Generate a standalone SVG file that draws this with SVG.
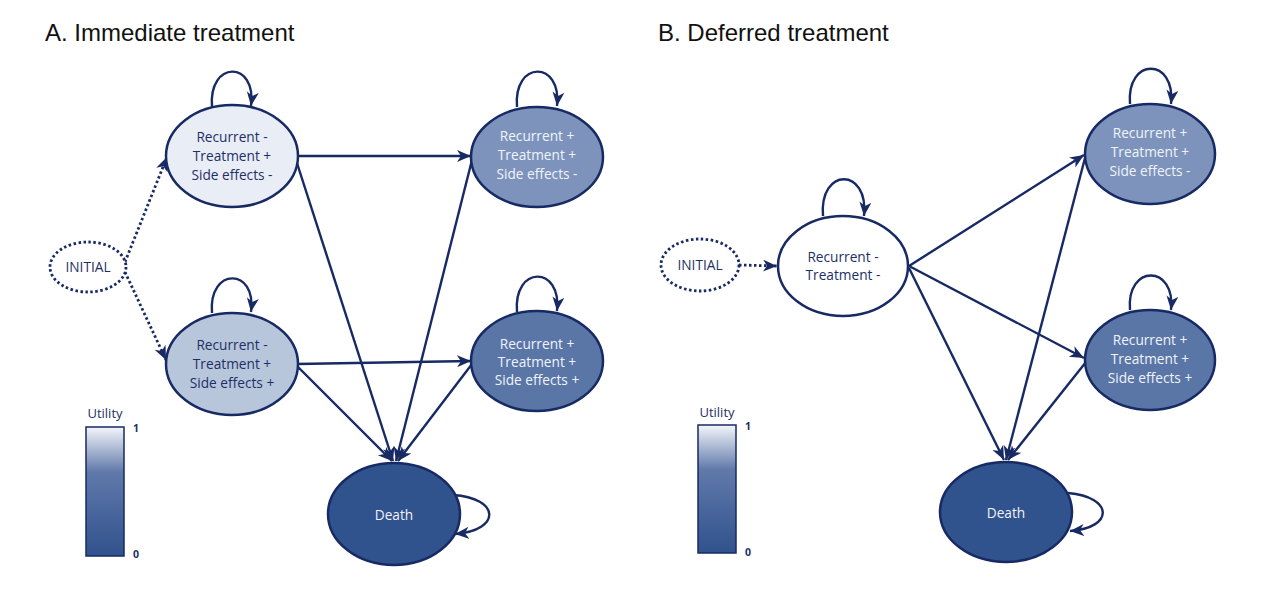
<svg xmlns="http://www.w3.org/2000/svg" width="1271" height="600" viewBox="0 0 1271 600">
<defs>
<marker id="arr" markerUnits="userSpaceOnUse" markerWidth="16" markerHeight="14" refX="14" refY="6" orient="auto">
<path d="M0,0 L14,6 L0,12 L4,6 z" fill="#172a63"/>
</marker>
<linearGradient id="util" x1="0" y1="0" x2="0" y2="1">
<stop offset="0" stop-color="#f3f5fa"/>
<stop offset="0.35" stop-color="#6079aa"/>
<stop offset="1" stop-color="#30528d"/>
</linearGradient>
<style>
.title{font-family:"Liberation Sans",Arial,sans-serif;font-size:24px;fill:#111}
.node{stroke:#172a63;stroke-width:2.5}
.lbl{font-family:"Open Sans","Liberation Sans",sans-serif;font-size:13.7px;text-anchor:middle}
.dk{fill:#1e2f66}
.lt{fill:#f0f3fa}
.edge{fill:none;stroke:#172a63;stroke-width:2.4;marker-end:url(#arr)}
.dot{fill:none;stroke:#172a63;stroke-width:2.8;stroke-dasharray:2.5 2.5;marker-end:url(#arr)}
.leg{font-family:"Open Sans","Liberation Sans",sans-serif;font-size:13px;fill:#1e2f66}
.legn{font-family:"Open Sans","Liberation Sans",sans-serif;font-size:10.5px;fill:#1e2f66;font-weight:bold}
</style>
</defs>
<rect width="1271" height="600" fill="#ffffff"/>
<text class="title" x="45" y="41">A. Immediate treatment</text>
<text class="title" x="658" y="41">B. Deferred treatment</text>

<g id="connectors">
<!-- Panel A -->
<path class="dot" d="M125,262 L167,157"/>
<path class="dot" d="M125,272 L166,360"/>
<path class="edge" d="M298,156 L471,156"/>
<path class="edge" d="M296,160 L393,461"/>
<path class="edge" d="M297,364 L471,361"/>
<path class="edge" d="M297,366 L392,461"/>
<path class="edge" d="M472,160 L396,461"/>
<path class="edge" d="M472,364 L398,461"/>
<path class="edge" d="M212,107 C208,60 257,60 251,106"/>
<path class="edge" d="M212,313 C208,267 257,267 251,312"/>
<path class="edge" d="M517,107 C513,60 562,60 557,106"/>
<path class="edge" d="M517,312 C513,265 562,265 557,311"/>
<path class="edge" d="M453,495 C500,498 502,530 455,534"/>
<!-- Panel B -->
<path class="dot" d="M739,265 L777,266"/>
<path class="edge" d="M909,266 L1084,155"/>
<path class="edge" d="M909,266 L1084,358"/>
<path class="edge" d="M909,268 L1004,460"/>
<path class="edge" d="M1085,158 L1006,460"/>
<path class="edge" d="M1086,362 L1008,460"/>
<path class="edge" d="M823,216 C819,167 869,167 864,216"/>
<path class="edge" d="M1130,104 C1126,57 1176,57 1171,104"/>
<path class="edge" d="M1130,310 C1126,264 1176,264 1171,310"/>
<path class="edge" d="M1068,493 C1114,497 1114,528 1070,531"/>
</g>

<g id="A-initial">
<ellipse cx="88" cy="267" rx="38" ry="25" fill="#fff" stroke="#172a63" stroke-width="2.8" stroke-dasharray="2.5 2.5"/>
<text class="lbl dk" x="88" y="272">INITIAL</text>
</g>
<g id="A-rm-tp-sm">
<ellipse class="node" cx="232" cy="156" rx="66" ry="51" fill="#e9edf6"/>
<text class="lbl dk" x="232" y="142">Recurrent -</text>
<text class="lbl dk" x="232" y="161">Treatment +</text>
<text class="lbl dk" x="232" y="179.5">Side effects -</text>
</g>
<g id="A-rm-tp-sp">
<ellipse class="node" cx="232" cy="364" rx="66" ry="51" fill="#b8c6dc"/>
<text class="lbl dk" x="232" y="350">Recurrent -</text>
<text class="lbl dk" x="232" y="369">Treatment +</text>
<text class="lbl dk" x="232" y="387.5">Side effects +</text>
</g>
<g id="A-rp-tp-sm">
<ellipse class="node" cx="537" cy="157" rx="66" ry="50" fill="#7d93bc"/>
<text class="lbl lt" x="537" y="141">Recurrent +</text>
<text class="lbl lt" x="537" y="159.5">Treatment +</text>
<text class="lbl lt" x="537" y="178.5">Side effects -</text>
</g>
<g id="A-rp-tp-sp">
<ellipse class="node" cx="537" cy="361" rx="66" ry="50" fill="#5a76a7"/>
<text class="lbl lt" x="537" y="348.5">Recurrent +</text>
<text class="lbl lt" x="537" y="366.5">Treatment +</text>
<text class="lbl lt" x="537" y="385">Side effects +</text>
</g>
<g id="A-death">
<ellipse class="node" cx="394" cy="514" rx="66" ry="51" fill="#30528d"/>
<text class="lbl lt" x="394" y="519.5">Death</text>
</g>
<g id="A-legend">
<text class="leg" x="105" y="418" text-anchor="middle">Utility</text>
<rect x="86" y="427" width="38" height="129" fill="url(#util)" stroke="#172a63" stroke-width="1.5"/>
<text class="legn" x="133" y="432">1</text>
<text class="legn" x="133" y="558">0</text>
</g>

<g id="B-initial">
<ellipse cx="700" cy="265" rx="39" ry="26" fill="#fff" stroke="#172a63" stroke-width="2.8" stroke-dasharray="2.5 2.5"/>
<text class="lbl dk" x="700" y="270">INITIAL</text>
</g>
<g id="B-rm-tm">
<ellipse class="node" cx="843" cy="266" rx="65" ry="50" fill="#ffffff"/>
<text class="lbl dk" x="843" y="261.5">Recurrent -</text>
<text class="lbl dk" x="843" y="280">Treatment -</text>
</g>
<g id="B-rp-tp-sm">
<ellipse class="node" cx="1150" cy="154" rx="65" ry="50" fill="#7d93bc"/>
<text class="lbl lt" x="1150" y="138">Recurrent +</text>
<text class="lbl lt" x="1150" y="156.5">Treatment +</text>
<text class="lbl lt" x="1150" y="175.5">Side effects -</text>
</g>
<g id="B-rp-tp-sp">
<ellipse class="node" cx="1150" cy="360" rx="65" ry="50" fill="#5a76a7"/>
<text class="lbl lt" x="1150" y="345">Recurrent +</text>
<text class="lbl lt" x="1150" y="363.5">Treatment +</text>
<text class="lbl lt" x="1150" y="382.5">Side effects +</text>
</g>
<g id="B-death">
<ellipse class="node" cx="1006" cy="512" rx="66" ry="50" fill="#30528d"/>
<text class="lbl lt" x="1006" y="517.5">Death</text>
</g>
<g id="B-legend">
<text class="leg" x="717" y="417" text-anchor="middle">Utility</text>
<rect x="698" y="425" width="38" height="128" fill="url(#util)" stroke="#172a63" stroke-width="1.5"/>
<text class="legn" x="745" y="430">1</text>
<text class="legn" x="745" y="556">0</text>
</g>
</svg>
